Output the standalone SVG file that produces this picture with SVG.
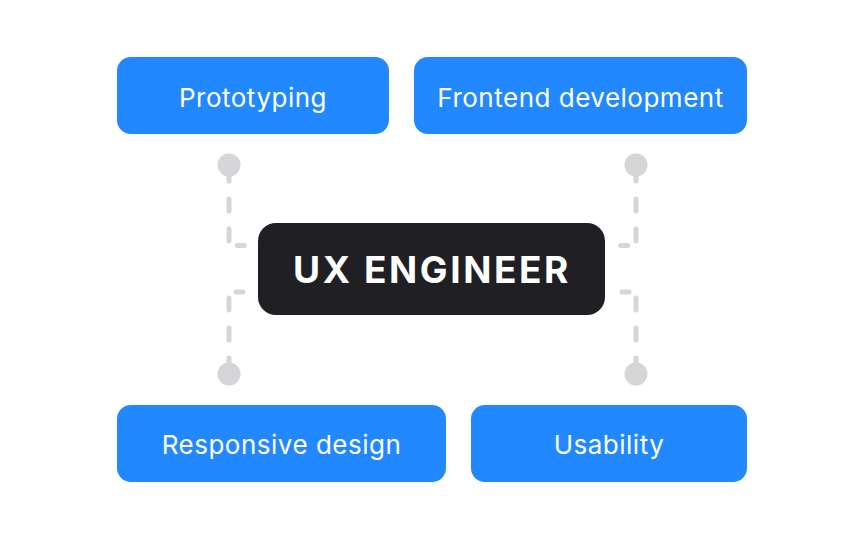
<svg xmlns="http://www.w3.org/2000/svg" width="864" height="540" viewBox="0 0 864 540">
<style>
.box{fill:#2188ff}
.lbl{font-family:Inter,"Noto Sans",sans-serif;font-size:26px;letter-spacing:0.5px;fill:#ffffff;text-anchor:middle;dominant-baseline:central}
.conn{fill:none;stroke:#d6d6d8;stroke-width:5;stroke-linecap:round;stroke-dasharray:12 18 12 18 12 18 12 11 7 100;stroke-dashoffset:26}
.dot{fill:#d6d6d8}
</style>
<rect width="864" height="540" fill="#ffffff"/>
<g id="connectors">
<path class="conn" d="M229 165 V241 Q229 245.5 233.5 245.5 H247"/>
<path class="conn" d="M229 374 V296.5 Q229 292 233.5 292 H247"/>
<path class="conn" d="M636 165 V241 Q636 245.5 631.5 245.5 H617"/>
<path class="conn" d="M636 374 V296.5 Q636 292 631.5 292 H617"/>
<circle class="dot" cx="229" cy="165" r="11.5"/>
<circle class="dot" cx="229" cy="374" r="11.5"/>
<circle class="dot" cx="636" cy="165" r="11.5"/>
<circle class="dot" cx="636" cy="374" r="11.5"/>
</g>
<g id="prototyping">
<rect class="box" x="117" y="57" width="272" height="77" rx="14"/>
<text class="lbl" x="253" y="97">Prototyping</text>
</g>
<g id="frontend">
<rect class="box" x="414" y="57" width="333" height="77" rx="14"/>
<text class="lbl" x="580.5" y="97">Frontend development</text>
</g>
<g id="responsive">
<rect class="box" x="117" y="405" width="329" height="77" rx="14"/>
<text class="lbl" x="281.5" y="444">Responsive design</text>
</g>
<g id="usability">
<rect class="box" x="471" y="405" width="276" height="77" rx="14"/>
<text class="lbl" x="609" y="444">Usability</text>
</g>
<g id="ux-engineer">
<rect x="258" y="223" width="347" height="92" rx="18" fill="#1f1f24"/>
<text x="432" y="269" font-family="Inter,'Noto Sans',sans-serif" font-size="37" font-weight="700" letter-spacing="2.6" fill="#ffffff" text-anchor="middle" dominant-baseline="central">UX ENGINEER</text>
</g>
</svg>
